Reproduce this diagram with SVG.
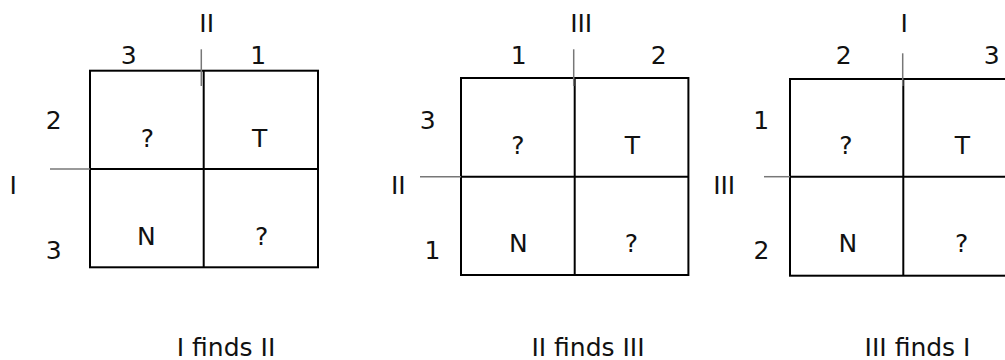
<svg xmlns="http://www.w3.org/2000/svg" width="1005" height="360" viewBox="0 0 1005 360">
  <style>
    .box { fill: none; stroke: #000; stroke-width: 2; }
    .div { stroke: #000; stroke-width: 2; }
    .tick { stroke: #777; stroke-width: 1.5; }
    text { font-family: "DejaVu Sans", Verdana, sans-serif; font-size: 25px; fill: #111; text-anchor: middle; }
  </style>
  <rect width="1005" height="360" fill="#fff"/>

  <g id="grid1">
    <rect class="box" x="90" y="70.7" width="228" height="196.6"/>
    <line class="div" x1="203.7" y1="70.7" x2="203.7" y2="267.3"/>
    <line class="div" x1="90" y1="169" x2="318" y2="169"/>
    <text x="206.7" y="32.3">II</text>
    <text x="128.8" y="64">3</text>
    <text x="258.3" y="64">1</text>
    <text x="53.8" y="129.3">2</text>
    <text x="13.3" y="194.3">I</text>
    <text x="53.7" y="259.3">3</text>
    <text x="147.5" y="146.7">?</text>
    <text x="259.7" y="146.7">T</text>
    <text x="146.3" y="245">N</text>
    <text x="261.7" y="245">?</text>
  </g>

  <g id="grid2">
    <rect class="box" x="461" y="78" width="227.4" height="197"/>
    <line class="div" x1="574.7" y1="78" x2="574.7" y2="275"/>
    <line class="div" x1="461" y1="176.7" x2="688.4" y2="176.7"/>
    <text x="581.2" y="32.3">III</text>
    <text x="518.8" y="64">1</text>
    <text x="658.7" y="64">2</text>
    <text x="427.8" y="129.3">3</text>
    <text x="398.3" y="194.3">II</text>
    <text x="432.5" y="259.3">1</text>
    <text x="518" y="154">?</text>
    <text x="632.3" y="154">T</text>
    <text x="518.3" y="252.3">N</text>
    <text x="631.3" y="252.3">?</text>
  </g>

  <g id="grid3">
    <rect class="box" x="790" y="79" width="226.6" height="196.7"/>
    <line class="div" x1="903.3" y1="79" x2="903.3" y2="275.7"/>
    <line class="div" x1="790" y1="176.7" x2="1016.6" y2="176.7"/>
    <text x="904.2" y="32.3">I</text>
    <text x="843.7" y="64">2</text>
    <text x="991.7" y="64">3</text>
    <text x="761.2" y="129.3">1</text>
    <text x="724.2" y="194.3">III</text>
    <text x="761.5" y="259.3">2</text>
    <text x="845.8" y="154">?</text>
    <text x="962.5" y="154">T</text>
    <text x="847.8" y="252.3">N</text>
    <text x="961.7" y="252.3">?</text>
  </g>

  <g id="connectors">
    <line class="tick" x1="201.3" y1="49.3" x2="201.3" y2="86"/>
    <line class="tick" x1="50" y1="169" x2="90" y2="169"/>
    <line class="tick" x1="573.7" y1="49.3" x2="573.7" y2="86"/>
    <line class="tick" x1="420" y1="176.7" x2="461" y2="176.7"/>
    <line class="tick" x1="902.7" y1="53.3" x2="902.7" y2="86"/>
    <line class="tick" x1="764" y1="176.7" x2="790" y2="176.7"/>
  </g>

  <g id="captions">
    <text x="226" y="355.5">I finds II</text>
    <text x="588" y="355.5">II finds III</text>
    <text x="917.5" y="355.5">III finds I</text>
  </g>
</svg>
